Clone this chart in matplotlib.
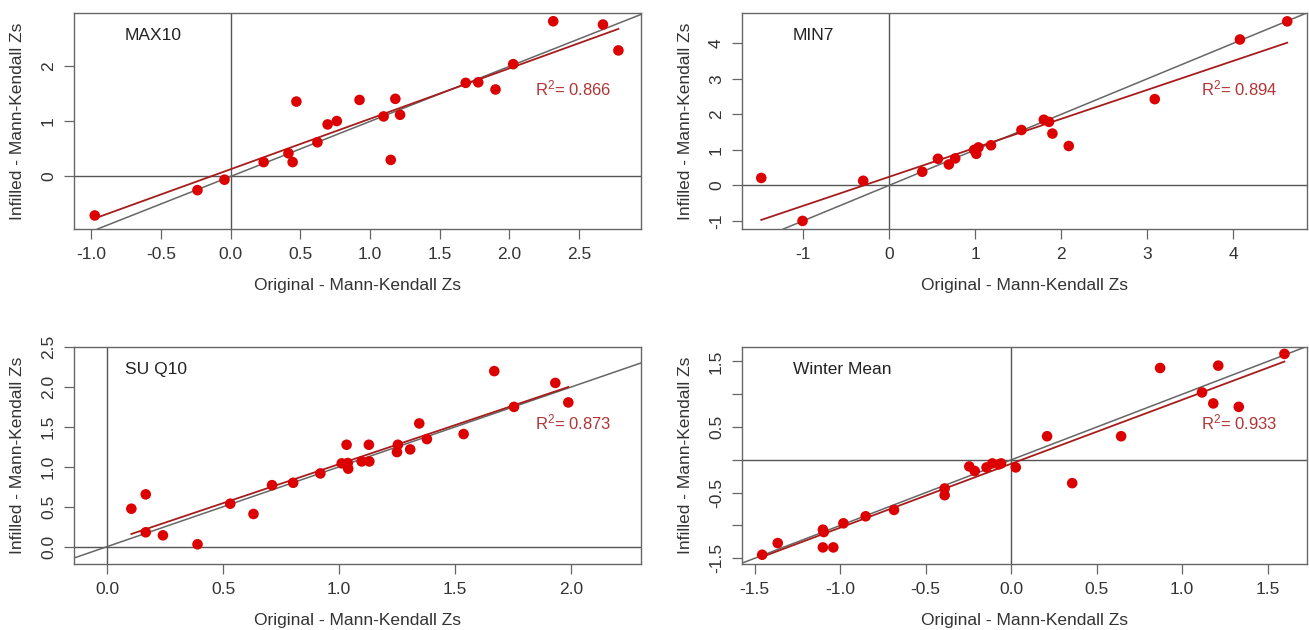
import numpy as np
import matplotlib
matplotlib.use("Agg")
import matplotlib.pyplot as plt

plt.rcParams['font.family'] = ['Liberation Sans', 'DejaVu Sans']
plt.rcParams['mathtext.default'] = 'regular'
plt.rcParams['axes.unicode_minus'] = False

# MAX10
max10_x = [-0.976, -0.239, -0.045, 0.236, 0.414, 0.444, 0.471, 0.622, 0.695, 0.761, 0.924,
           1.097, 1.148, 1.181, 1.215, 1.686, 1.776, 1.900, 2.027, 2.314, 2.671, 2.782]
max10_y = [-0.71, -0.25, -0.06, 0.26, 0.42, 0.26, 1.36, 0.62, 0.945, 1.006, 1.39,
           1.09, 0.30, 1.41, 1.12, 1.70, 1.71, 1.58, 2.04, 2.82, 2.76, 2.29]

# MIN7
min7_x = [-1.485, -1.005, -0.30, 0.387, 0.569, 0.696, 0.77, 0.99, 1.015, 1.04, 1.186,
          1.54, 1.80, 1.86, 1.90, 2.09, 3.09, 4.08, 4.63]
min7_y = [0.21, -1.00, 0.13, 0.385, 0.75, 0.59, 0.76, 1.00, 0.89, 1.07, 1.13,
          1.56, 1.85, 1.79, 1.46, 1.11, 2.43, 4.11, 4.62]

# SU Q10
suq10_x = [0.105, 0.167, 0.167, 0.241, 0.39, 0.531, 0.631, 0.711, 0.802, 0.919, 1.011,
           1.032, 1.037, 1.039, 1.097, 1.128, 1.13, 1.249, 1.253, 1.306, 1.345, 1.378,
           1.536, 1.668, 1.753, 1.931, 1.987]
suq10_y = [0.475, 0.655, 0.18, 0.142, 0.03, 0.538, 0.409, 0.77, 0.80, 0.917, 1.043,
           1.276, 1.047, 0.976, 1.067, 1.276, 1.067, 1.184, 1.276, 1.218, 1.543, 1.347,
           1.41, 2.198, 1.75, 2.05, 1.806]

# Winter Mean
winter_x = [-1.456, -1.365, -1.101, -1.096, -1.101, -1.04, -0.981, -0.851, -0.685, -0.389,
            -0.389, -0.245, -0.213, -0.144, -0.110, -0.073, -0.059, 0.027, 0.21, 0.357,
            0.643, 0.871, 1.116, 1.182, 1.211, 1.331, 1.598]
winter_y = [-1.446, -1.268, -1.064, -1.10, -1.334, -1.334, -0.967, -0.86, -0.763, -0.436,
            -0.538, -0.10, -0.17, -0.115, -0.054, -0.069, -0.054, -0.115, 0.36, -0.355,
            0.36, 1.40, 1.028, 0.86, 1.436, 0.808, 1.615]

names = ["MAX10", "MIN7", "SU Q10", "Winter Mean"]
r2_labels = ["0.866", "0.894", "0.873", "0.933"]

xlims = [(-1.125, 2.944), (-1.709, 4.86), (-0.142, 2.30), (-1.574, 1.73)]
ylims = [(-0.956, 2.97), (-1.228, 4.856), (-0.217, 2.50), (-1.587, 1.72)]
xticks = [[-1.0, -0.5, 0.0, 0.5, 1.0, 1.5, 2.0, 2.5], [-1, 0, 1, 2, 3, 4],
          [0.0, 0.5, 1.0, 1.5, 2.0], [-1.5, -1.0, -0.5, 0.0, 0.5, 1.0, 1.5]]
xfmt = ["%.1f", "%d", "%.1f", "%.1f"]
yticks = [[0, 1, 2], [-1, 0, 1, 2, 3, 4], [0.0, 0.5, 1.0, 1.5, 2.0, 2.5],
          [-1.5, -1.0, -0.5, 0.0, 0.5, 1.0, 1.5]]
ylabs = [["0", "1", "2"], ["-1", "0", "1", "2", "3", "4"],
         ["0.0", "0.5", "1.0", "1.5", "2.0", "2.5"],
         ["-1.5", "", "-0.5", "", "0.5", "", "1.5"]]

xs = [max10_x, min7_x, suq10_x, winter_x]
ys = [max10_y, min7_y, suq10_y, winter_y]

W, H = 1309, 630
boxes = [(74, 13, 641, 229), (742, 13, 1307, 229), (74, 347, 641, 564), (742, 347, 1307, 564)]

fig = plt.figure(figsize=(W / 100, H / 100), dpi=100)
fs = 12.5
tcol = '#333333'
for i in range(4):
    l, t, r, b = boxes[i]
    ax = fig.add_axes([l / W, (H - b) / H, (r - l) / W, (b - t) / H])
    x = np.array(xs[i])
    y = np.array(ys[i])
    ax.set_xlim(xlims[i])
    ax.set_ylim(ylims[i])
    ax.axhline(0, color='#555555', lw=1.0, zorder=1)
    ax.axvline(0, color='#555555', lw=1.0, zorder=1)
    # 1:1 line
    ax.axline((0, 0), slope=1, color='#666666', lw=1.1, zorder=2)
    # regression
    m, c = np.polyfit(x, y, 1)
    xx = np.array([x.min(), x.max()])
    ax.plot(xx, m * xx + c, color='#a51d1d', lw=1.3, zorder=3)
    ax.scatter(x, y, s=58, color='#dd0000', edgecolors='none', zorder=4)
    ax.text(0.09, 0.897, names[i], transform=ax.transAxes, fontsize=fs,
            ha='left', va='center', color='#222222')
    ax.text(0.813, 0.653, 'R$^2$= ' + r2_labels[i], transform=ax.transAxes,
            fontsize=fs - 0.5, ha='left', va='center', color='#b03535')
    ax.set_xticks(xticks[i])
    ax.set_xticklabels([xfmt[i] % v for v in xticks[i]])
    ax.set_yticks(yticks[i])
    ax.set_yticklabels(ylabs[i], rotation=90, va='center')
    ax.tick_params(direction='out', length=7, width=0.9, color='#666666',
                   labelsize=fs, labelcolor=tcol)
    ax.tick_params(axis='x', pad=6)
    ax.tick_params(axis='y', pad=6)
    for sp in ax.spines.values():
        sp.set_color('#666666')
        sp.set_linewidth(1.0)
    ax.set_xlabel("Original - Mann-Kendall Zs", fontsize=fs, color=tcol)
    ax.set_ylabel("Infilled - Mann-Kendall Zs", fontsize=fs, color=tcol)
    ax.xaxis.set_label_coords(0.5, -0.225)
    ax.yaxis.set_label_coords(-49 / (r - l), 0.5)

fig.savefig("out.png", dpi=100)
